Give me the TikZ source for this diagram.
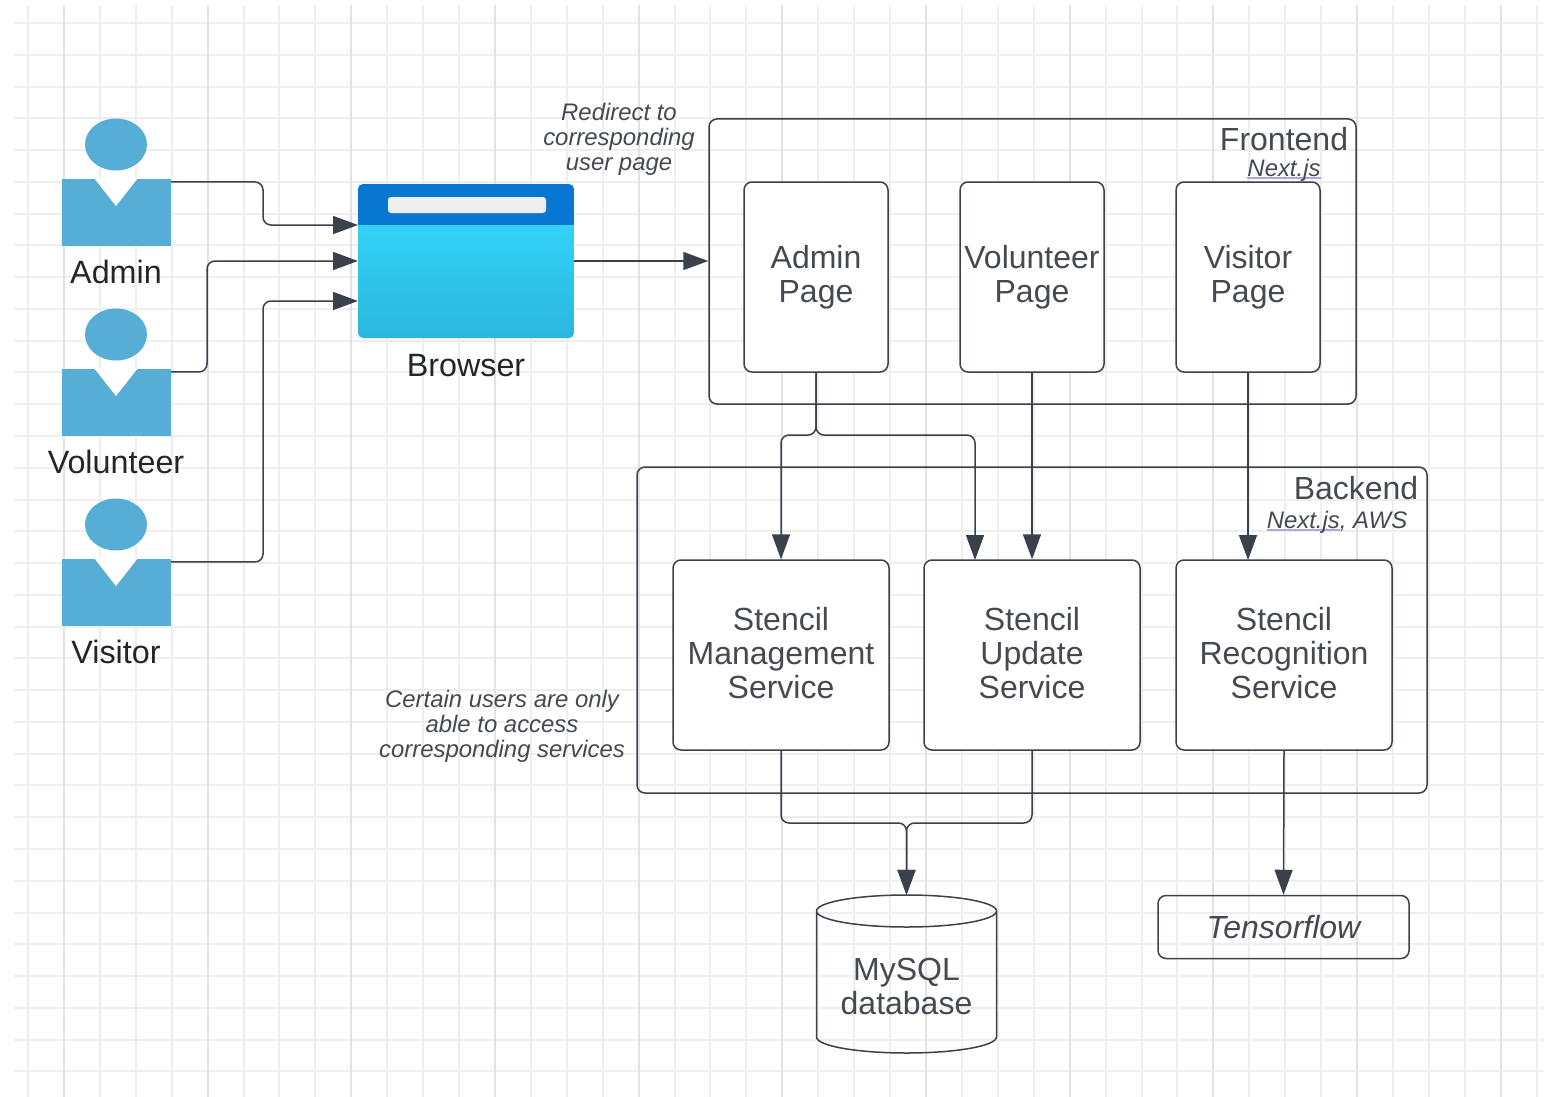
\documentclass[tikz,border=0pt]{standalone}
\usepackage{fontspec}
\setmainfont{Liberation Sans}
\usetikzlibrary{arrows.meta,calc,shapes.geometric}
\definecolor{ink}{HTML}{3A414A}
\definecolor{inktext}{HTML}{454A52}
\definecolor{lab}{HTML}{22262B}
\definecolor{person}{HTML}{56ADD6}
\definecolor{gridl}{HTML}{EEEEEE}
\definecolor{gridm}{HTML}{E2E2E2}
\definecolor{lav}{HTML}{A9A9E6}
\definecolor{BrowserA}{HTML}{32D2F6}
\definecolor{BrowserB}{HTML}{2BB6DF}
\definecolor{BrowserH}{HTML}{0877D2}
\definecolor{BrowserBar}{HTML}{EFEFEF}
\newcommand\lavul[1]{\setbox0=\hbox{#1}\leavevmode\rlap{\color{lav}\rule[-2.5pt]{\wd0}{1.2pt}}\box0}
\newcommand\threelines[3]{\raisebox{-3pt}[\height][\depth]{\begin{tabular}{@{}c@{}}#1\\#2\\#3\end{tabular}}}
\tikzset{
  x=1pt,y=-1pt,
  big/.style={font=\fontsize{32}{34}\selectfont,text=inktext,align=center,inner sep=0pt},
  small/.style={font=\fontsize{23.9}{25}\selectfont\itshape,text=inktext,align=center,inner sep=0pt},
  actorlabel/.style={font=\fontsize{32.3}{34}\selectfont,text=lab,inner sep=0pt},
  box/.style={draw=ink,line width=1.5pt,rounded corners=8pt,inner sep=0pt,fill=white},
  frame/.style={draw=ink,line width=1.5pt,rounded corners=8pt,inner sep=0pt},
  body/.style={fill=person,inner sep=0pt,minimum width=109pt,minimum height=67pt},
  head/.style={fill=person,ellipse,inner sep=0pt,minimum width=62pt,minimum height=52pt},
  conn/.style={draw=ink,line width=1.5pt,rounded corners=8pt,-{Triangle[length=25pt,width=18pt,fill=ink]}},
  plain/.style={draw=ink,line width=1.5pt,rounded corners=8pt},
}
\begin{document}
\begin{tikzpicture}
\useasboundingbox (0,0) rectangle (1544,1097);
\fill[white] (0,0) rectangle (1544,1097);
% grid
\foreach \i in {0,...,33}{\draw[gridl,line width=1.4pt] (14,{round(23+31.77*\i)}) -- (1544,{round(23+31.77*\i)});}
\foreach \i in {0,...,42}{\draw[gridl,line width=1.4pt] ({round(28+35.92*\i)},5) -- ({round(28+35.92*\i)},1097);}
\foreach \i in {0,...,10}{\draw[gridm,line width=1.6pt] ({round(64+143.68*\i)},5) -- ({round(64+143.68*\i)},1097);}
% actors
\foreach \nm/\yy/\tx in {admin/0/Admin,volunteer/190/Volunteer,visitor/380/Visitor}{
  \node[head] (\nm head) at (116,{144.5+\yy}) {};
  \node[body] (\nm) at (116.5,{212.5+\yy}) {};
  \fill[white] (94,{178+\yy}) -- (138,{178+\yy}) -- (116,{206+\yy}) -- cycle;
  \node[actorlabel] (\nm label) at (116,{272+\yy}) {\tx};
}
% browser
\node[inner sep=0pt,minimum width=216pt,minimum height=154pt] (browser) at (466,261) {};
\begin{scope}
\clip[rounded corners=5pt] (358,184) rectangle (574,338);
\shade[top color=BrowserA,bottom color=BrowserB] (358,225) rectangle (574,338);
\fill[BrowserH] (358,184) rectangle (574,225);
\end{scope}
\fill[BrowserBar,rounded corners=3pt] (388,197) rectangle (546,213);
\node[actorlabel] (browserlabel) at (466,365.5) {Browser};
\coordinate (bin1) at (358,225);
\coordinate (bin2) at (358,261);
\coordinate (bin3) at (358,301);
% frontend
\node[frame,minimum width=647pt,minimum height=285pt] (frontend) at (1032.5,261.5) {};
\node[big] (fronttitle) at (1284,139) {Frontend};
\node[small] (fronttech) at (1284,170) {\lavul{Next.js}};
\node[box,big,minimum width=144pt,minimum height=190pt] (adminpage) at (816,277) {Admin\\Page};
\node[box,big,minimum width=144pt,minimum height=190pt] (volpage) at (1032,277) {Volunteer\\Page};
\node[box,big,minimum width=144pt,minimum height=190pt] (vispage) at (1248,277) {Visitor\\Page};
\coordinate (fin) at (frontend.west |- browser.east);
% backend
\node[frame,minimum width=790pt,minimum height=326pt] (backend) at (1032,630) {};
\node[big] (backtitle) at (1356,488) {Backend};
\node[small] (backtech) at (1337,522) {\lavul{Next.js}, AWS};
\node[box,big,minimum width=216pt,minimum height=190pt] (mgmt) at (781,655) {\threelines{Stencil}{Management}{Service}};
\node[box,big,minimum width=216pt,minimum height=190pt] (update) at (1032,655) {\threelines{Stencil}{Update}{Service}};
\node[box,big,minimum width=216pt,minimum height=190pt] (recog) at (1284,655) {\threelines{Stencil}{Recognition}{Service}};
% notes
\node[small] (redirect) at (619,139) {Redirect to\\corresponding\\user page};
\node[small] (certain) at (502,726) {Certain users are only\\able to access\\corresponding services};
% stores
\node[inner sep=0pt,minimum width=180pt,minimum height=158pt] (db) at (906.5,974) {};
\draw[plain,rounded corners=0pt] (816.5,911) arc[start angle=180,end angle=360,x radius=90pt,y radius=16pt] arc[start angle=0,end angle=180,x radius=90pt,y radius=16pt] -- (816.5,1037) arc[start angle=180,end angle=360,x radius=90pt,y radius=16pt] -- (996.5,911);
\node[big] (dbtext) at (906.5,986) {MySQL\\database};
\node[box,fill=none,big,font=\fontsize{32}{34}\selectfont\itshape,minimum width=251pt,minimum height=63pt] (tf) at (1283.5,927) {Tensorflow};
% connectors
\coordinate (updatein) at (975,560);
\coordinate (recogin) at (1248,560);
\coordinate (adminout) at ($(admin.north east)+(0,3)$);
\coordinate (volunteerout) at ($(volunteer.north east)+(0,3)$);
\coordinate (visitorout) at ($(visitor.north east)+(0,3)$);
\draw[conn] (adminout) -- (263,182) -- (263,225) -- (bin1);
\draw[conn] (volunteerout) -- (207,372) -- (207,261) -- (bin2);
\draw[conn] (visitorout) -- (263,562) -- (263,301) -- (bin3);
\draw[conn,rounded corners=0pt] (browser.east) -- (fin);
\draw[conn] (adminpage.south) -- (816,435) -- (781,435) -- (mgmt.north);
\draw[conn] (adminpage.south) -- (816,435) -- (975,435) -- (updatein);
\draw[conn,rounded corners=0pt] (volpage.south) -- (update.north);
\draw[conn,rounded corners=0pt] (vispage.south) -- (recogin);
\draw[conn] (mgmt.south) -- (781,823) -- (906.5,823) -- (db.north);
\draw[conn] (update.south) -- (1032,823) -- (906.5,823) -- (db.north);
\draw[conn,rounded corners=0pt] (recog.south) -- (tf.north);
\end{tikzpicture}
\end{document}
